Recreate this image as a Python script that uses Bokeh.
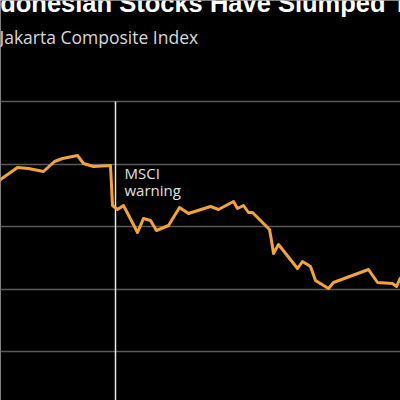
from bokeh.plotting import figure
from bokeh.models import Range1d, FixedTicker, Label, Grid
from bokeh.embed import file_html
from bokeh.resources import INLINE

# Jakarta Composite Index, trading-day position vs index level
days = [-0.6, 0.0, 3.4, 5.6, 8.6, 10.8, 12.4, 15.4, 16.6, 18.6, 22.0,
        22.4, 23.4, 24.6, 27.4, 28.6, 30.0, 31.2, 33.6, 35.8, 37.6,
        42.0, 43.6, 46.6, 47.4, 48.6, 49.6, 50.4, 51.6, 53.8, 54.2,
        54.6, 55.6, 59.4, 60.4, 62.0, 63.0, 65.6, 66.6, 73.6, 75.4,
        78.4, 79.2, 80.0]
jci = [8680, 8752, 8944, 8928, 8880, 9040, 9088, 9136, 9008, 8960, 8976,
       8336, 8272, 8336, 7904, 8128, 8096, 7936, 8016, 8304, 8208,
       8320, 8272, 8400, 8288, 8336, 8224, 8224, 8128, 7952, 7776,
       7568, 7712, 7328, 7440, 7360, 7136, 7008, 7104, 7312, 7104,
       7088, 7040, 7184]
grid_levels = [6000, 7000, 8000, 9000, 10000]
msci_day = 23.0
title_text = "Indonesian Stocks Have Slumped To"
subtitle_text = "Jakarta Composite Index"

p = figure(width=400, height=400, output_backend="svg", toolbar_location=None,
           x_axis_type=None, y_axis_type=None, min_border=0,
           x_range=Range1d(0, 80), y_range=Range1d(5216, 11616))
p.background_fill_color = "black"
p.border_fill_color = "black"
p.outline_line_color = None
p.add_layout(Grid(dimension=1, ticker=FixedTicker(ticks=grid_levels),
                  grid_line_color="#5a5a5a", grid_line_width=1.5))

p.segment(x0=[msci_day], y0=[grid_levels[-1]], x1=[msci_day], y1=[5000],
          line_color="#e8e8e8", line_width=1.5)
p.line(days, jci, line_color="#f2a33c", line_width=3, line_join="round")

p.add_layout(Label(x=-4.6, y=11570, text=title_text, text_color="white",
                   text_font="Liberation Sans", text_font_style="bold",
                   text_font_size="25.5px", text_baseline="alphabetic"))
p.add_layout(Label(x=-0.2, y=11030, text=subtitle_text, text_color="#d8d8d8",
                   text_font="Open Sans", text_font_size="17.5px",
                   text_baseline="alphabetic"))
p.add_layout(Label(x=24.8, y=8850, text="MSCI", text_color="#e0e0e0",
                   text_font="Open Sans", text_font_size="15px",
                   text_baseline="alphabetic"))
p.add_layout(Label(x=24.8, y=8590, text="warning", text_color="#e0e0e0",
                   text_font="Open Sans", text_font_size="15px",
                   text_baseline="alphabetic"))

open("out.html", "w").write(file_html(p, INLINE))
